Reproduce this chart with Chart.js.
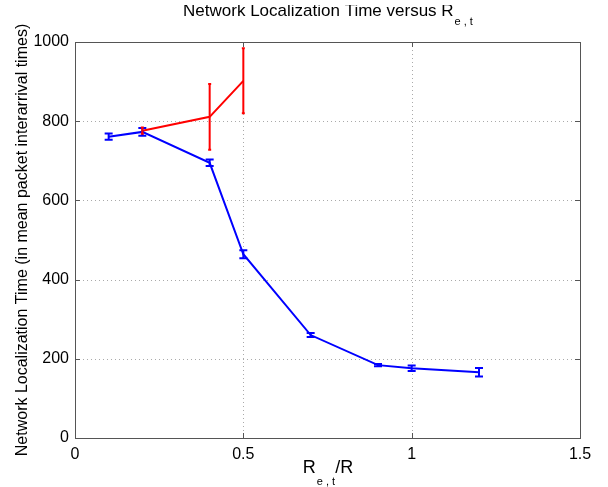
<!DOCTYPE html>
<html><head><meta charset="utf-8">
<script src="https://cdn.jsdelivr.net/npm/chart.js@4"></script>
<style>html,body{margin:0;padding:0;background:#fff}#c{display:block}</style>
</head><body>
<canvas id="c" width="608" height="487"></canvas>
<script>
// data
var blueX = [0.1, 0.2, 0.4, 0.5, 0.7, 0.9, 1.0, 1.2];
var blueY = [761, 773, 695, 464, 260, 184, 176, 166];
var blueErr = [8, 10, 8, 10, 5, 3, 7, 11];
var redX = [0.2, 0.4, 0.5];
var redY = [776, 811, 902];
var redErr = [8, 83, 82];
var xTicks = [0, 0.5, 1, 1.5];
var yTicks = [0, 200, 400, 600, 800, 1000];

var FONT = '"Liberation Sans", Arial, sans-serif';

function pts(xs, ys) {
	return xs.map(function (x, i) { return {x: x, y: ys[i]}; });
}

// draws "main" + subscript + "rest", centered on cx, baseline y
function subText(ctx, main, sub, rest, cx, y, size, subSize, drop) {
	ctx.font = size + 'px ' + FONT;
	var w1 = ctx.measureText(main).width;
	var w3 = ctx.measureText(rest).width;
	ctx.font = subSize + 'px ' + FONT;
	var w2 = ctx.measureText(sub).width;
	var x = cx - (w1 + w2 + w3) / 2;
	ctx.textAlign = 'left';
	ctx.textBaseline = 'alphabetic';
	ctx.font = size + 'px ' + FONT;
	ctx.fillText(main, x, y);
	ctx.font = subSize + 'px ' + FONT;
	ctx.fillText(sub, x + w1 + 1, y + drop);
	ctx.font = size + 'px ' + FONT;
	ctx.fillText(rest, x + w1 + w2 + 1, y);
}

var errSets = [
	{xs: blueX, ys: blueY, err: blueErr, color: '#0000ff', cap: 4},
	{xs: redX, ys: redY, err: redErr, color: '#ff0000', cap: 1.5}
];

var matlab = {
	id: 'matlab',
	beforeDatasetsDraw: function (chart) {
		var ctx = chart.ctx, a = chart.chartArea, xs = chart.scales.x, ys = chart.scales.y;
		ctx.save();
		ctx.strokeStyle = '#aaaaaa';
		ctx.lineWidth = 1;
		ctx.setLineDash([1, 3]);
		xTicks.slice(1, -1).forEach(function (t) {
			var px = Math.round(xs.getPixelForValue(t)) + 0.5;
			ctx.beginPath(); ctx.moveTo(px, a.top); ctx.lineTo(px, a.bottom); ctx.stroke();
		});
		yTicks.slice(1, -1).forEach(function (t) {
			var py = Math.round(ys.getPixelForValue(t)) + 0.5;
			ctx.beginPath(); ctx.moveTo(a.left, py); ctx.lineTo(a.right, py); ctx.stroke();
		});
		ctx.restore();
	},
	afterDatasetsDraw: function (chart) {
		var ctx = chart.ctx, xs = chart.scales.x, ys = chart.scales.y;
		ctx.save();
		ctx.lineWidth = 2;
		errSets.forEach(function (s) {
			ctx.strokeStyle = s.color;
			s.xs.forEach(function (x, i) {
				var px = xs.getPixelForValue(x);
				var top = ys.getPixelForValue(s.ys[i] + s.err[i]);
				var bot = ys.getPixelForValue(s.ys[i] - s.err[i]);
				ctx.beginPath();
				ctx.moveTo(px, top); ctx.lineTo(px, bot);
				ctx.moveTo(px - s.cap, top); ctx.lineTo(px + s.cap, top);
				ctx.moveTo(px - s.cap, bot); ctx.lineTo(px + s.cap, bot);
				ctx.stroke();
			});
		});
		ctx.restore();
	},
	afterDraw: function (chart) {
		var ctx = chart.ctx, a = chart.chartArea, xs = chart.scales.x, ys = chart.scales.y;
		ctx.save();
		ctx.strokeStyle = '#555555';
		ctx.lineWidth = 1;
		ctx.strokeRect(Math.round(a.left) + 0.5, Math.round(a.top) + 0.5,
			Math.round(a.right - a.left), Math.round(a.bottom - a.top));
		ctx.beginPath();
		xTicks.forEach(function (t) {
			var px = Math.round(xs.getPixelForValue(t)) + 0.5;
			ctx.moveTo(px, a.bottom); ctx.lineTo(px, a.bottom - 5);
			ctx.moveTo(px, a.top); ctx.lineTo(px, a.top + 5);
		});
		yTicks.forEach(function (t) {
			var py = Math.round(ys.getPixelForValue(t)) + 0.5;
			ctx.moveTo(a.left, py); ctx.lineTo(a.left + 5, py);
			ctx.moveTo(a.right, py); ctx.lineTo(a.right - 5, py);
		});
		ctx.stroke();

		ctx.fillStyle = '#000';
		var cx = (a.left + a.right) / 2;
		// title is cut off at the top in the original figure
		ctx.save();
		ctx.beginPath();
		ctx.rect(0, 5, chart.width, 30);
		ctx.clip();
		subText(ctx, 'Network Localization Time versus R', 'e , t', '', cx, 16, 17, 11, 9);
		ctx.restore();
		subText(ctx, 'R', 'e , t', '/R', cx, 473, 18, 11, 12);

		ctx.translate(27, (a.top + a.bottom) / 2);
		ctx.rotate(-Math.PI / 2);
		ctx.font = '16px ' + FONT;
		ctx.textAlign = 'center';
		ctx.textBaseline = 'alphabetic';
		ctx.fillText('Network Localization Time (in mean packet interarrival times)', 0, 0);
		ctx.restore();
	}
};

new Chart(document.getElementById('c'), {
	type: 'line',
	data: {
		datasets: [
			{data: pts(blueX, blueY), borderColor: '#0000ff', borderWidth: 2, pointRadius: 0, fill: false, tension: 0},
			{data: pts(redX, redY), borderColor: '#ff0000', borderWidth: 2, pointRadius: 0, fill: false, tension: 0}
		]
	},
	options: {
		responsive: false,
		animation: false,
		layout: {padding: {top: 42, right: 28, left: 0, bottom: 0}},
		plugins: {legend: {display: false}, tooltip: {enabled: false}},
		scales: {
			x: {
				type: 'linear', min: 0, max: 1.5,
				afterBuildTicks: function (s) { s.ticks = xTicks.map(function (v) { return {value: v}; }); },
				afterFit: function (s) { s.height = 49; },
				grid: {display: false, drawTicks: false},
				border: {display: false},
				ticks: {color: '#000', padding: 7, maxRotation: 0, font: {family: FONT, size: 16},
					callback: function (v) { return String(v); }}
			},
			y: {
				type: 'linear', min: 0, max: 1000,
				afterBuildTicks: function (s) { s.ticks = yTicks.map(function (v) { return {value: v}; }); },
				afterFit: function (s) { s.width = 75; },
				grid: {display: false, drawTicks: false},
				border: {display: false},
				ticks: {color: '#000', padding: 6, font: {family: FONT, size: 16},
					callback: function (v) { return String(v); }}
			}
		}
	},
	plugins: [matlab]
});
</script>
</body></html>
